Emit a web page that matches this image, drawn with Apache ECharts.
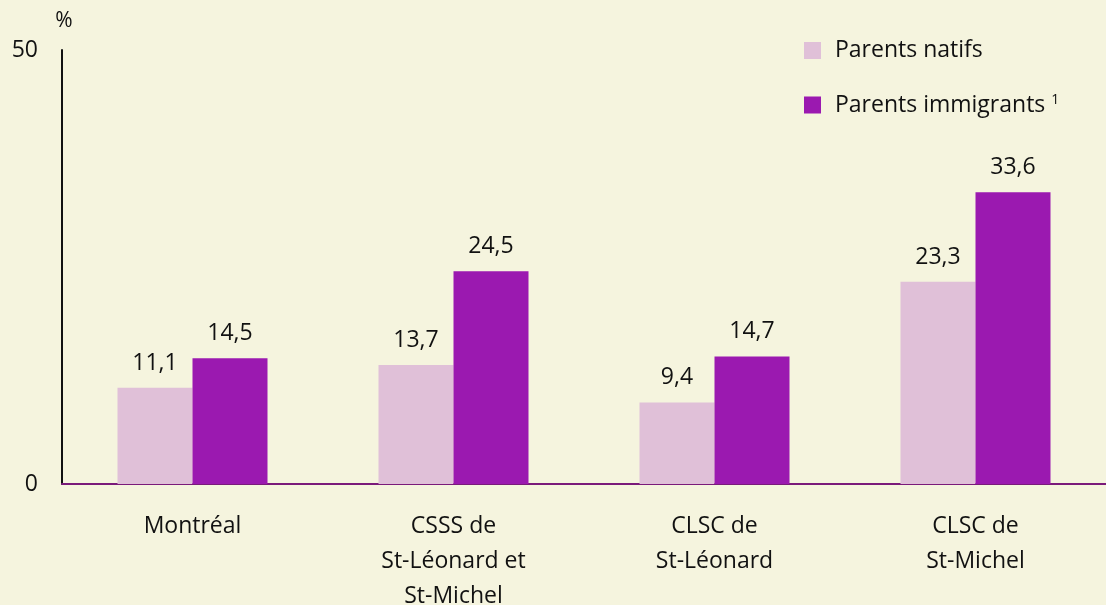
<!DOCTYPE html>
<html><head><meta charset="utf-8">
<script src="https://cdn.jsdelivr.net/npm/echarts@6/dist/echarts.min.js"></script>
<style>html,body{margin:0;padding:0;background:#F5F4DE;}#c{width:1106px;height:605px;}</style>
</head><body><div id="c"></div>
<script>
const categories = ['Montréal', 'CSSS de\nSt-Léonard et\nSt-Michel', 'CLSC de\nSt-Léonard', 'CLSC de\nSt-Michel'];
const natifs = [11.1, 13.7, 9.4, 23.3];
const immigrants = [14.5, 24.5, 14.7, 33.6];
const yTicks = [0, 50];
const seriesNames = ['Parents natifs', 'Parents immigrants'];

const FONT = 'Open Sans';
const FS = 23;
const chart = echarts.init(document.getElementById('c'));
const fmt = v => String(v.value).replace('.', ',');
chart.setOption({
  backgroundColor: '#F5F4DE',
  animation: false,
  textStyle: {fontFamily: FONT},
  grid: {left: 62, right: 0, top: 50, bottom: 121, containLabel: false, outerBoundsMode: 'none'},
  legend: {
    orient: 'vertical', left: 799, top: 34, itemWidth: 17, itemHeight: 17, itemGap: 31,
    icon: 'rect',
    data: seriesNames,
    formatter: n => n === seriesNames[1] ? '{t|' + n + '}{s|1}' : '{t|' + n + '}',
    textStyle: {
      fontFamily: FONT, fontSize: FS, color: '#111', padding: [0, 0, 0, 9],
      rich: {t: {fontFamily: FONT, fontSize: FS, lineHeight: 24, color: '#111'}, s: {fontFamily: FONT, fontSize: 14, color: '#111', verticalAlign: 'top', padding: [0, 0, 6, 6]}}
    }
  },
  xAxis: {
    type: 'category', data: categories,
    axisLine: {lineStyle: {color: '#7A1A7A', width: 2}},
    axisTick: {show: false},
    axisLabel: {fontFamily: FONT, fontSize: FS, color: '#111', lineHeight: 35, margin: 25, interval: 0}
  },
  yAxis: {
    type: 'value', min: yTicks[0], max: yTicks[1], interval: yTicks[1] - yTicks[0],
    name: '%', nameGap: 18, nameTextStyle: {fontFamily: FONT, fontSize: 21, color: '#111', align: 'center', padding: [0, 0, 0, 4]},
    axisLine: {show: true, lineStyle: {color: '#111', width: 2}},
    axisTick: {show: false},
    splitLine: {show: false},
    axisLabel: {fontFamily: FONT, fontSize: FS, color: '#111', margin: 24, padding: [3, 0, 0, 0]}
  },
  series: [
    {name: seriesNames[0], type: 'bar', data: natifs, barWidth: 75, barGap: '0%', itemStyle: {color: '#E0C0D8'},
     label: {show: true, position: 'top', distance: 13, formatter: fmt, fontFamily: FONT, fontSize: FS, color: '#111'}},
    {name: seriesNames[1], type: 'bar', data: immigrants, barWidth: 75, barGap: '0%', itemStyle: {color: '#9B19B0'},
     label: {show: true, position: 'top', distance: 13, formatter: fmt, fontFamily: FONT, fontSize: FS, color: '#111'}}
  ]
});
</script></body></html>
